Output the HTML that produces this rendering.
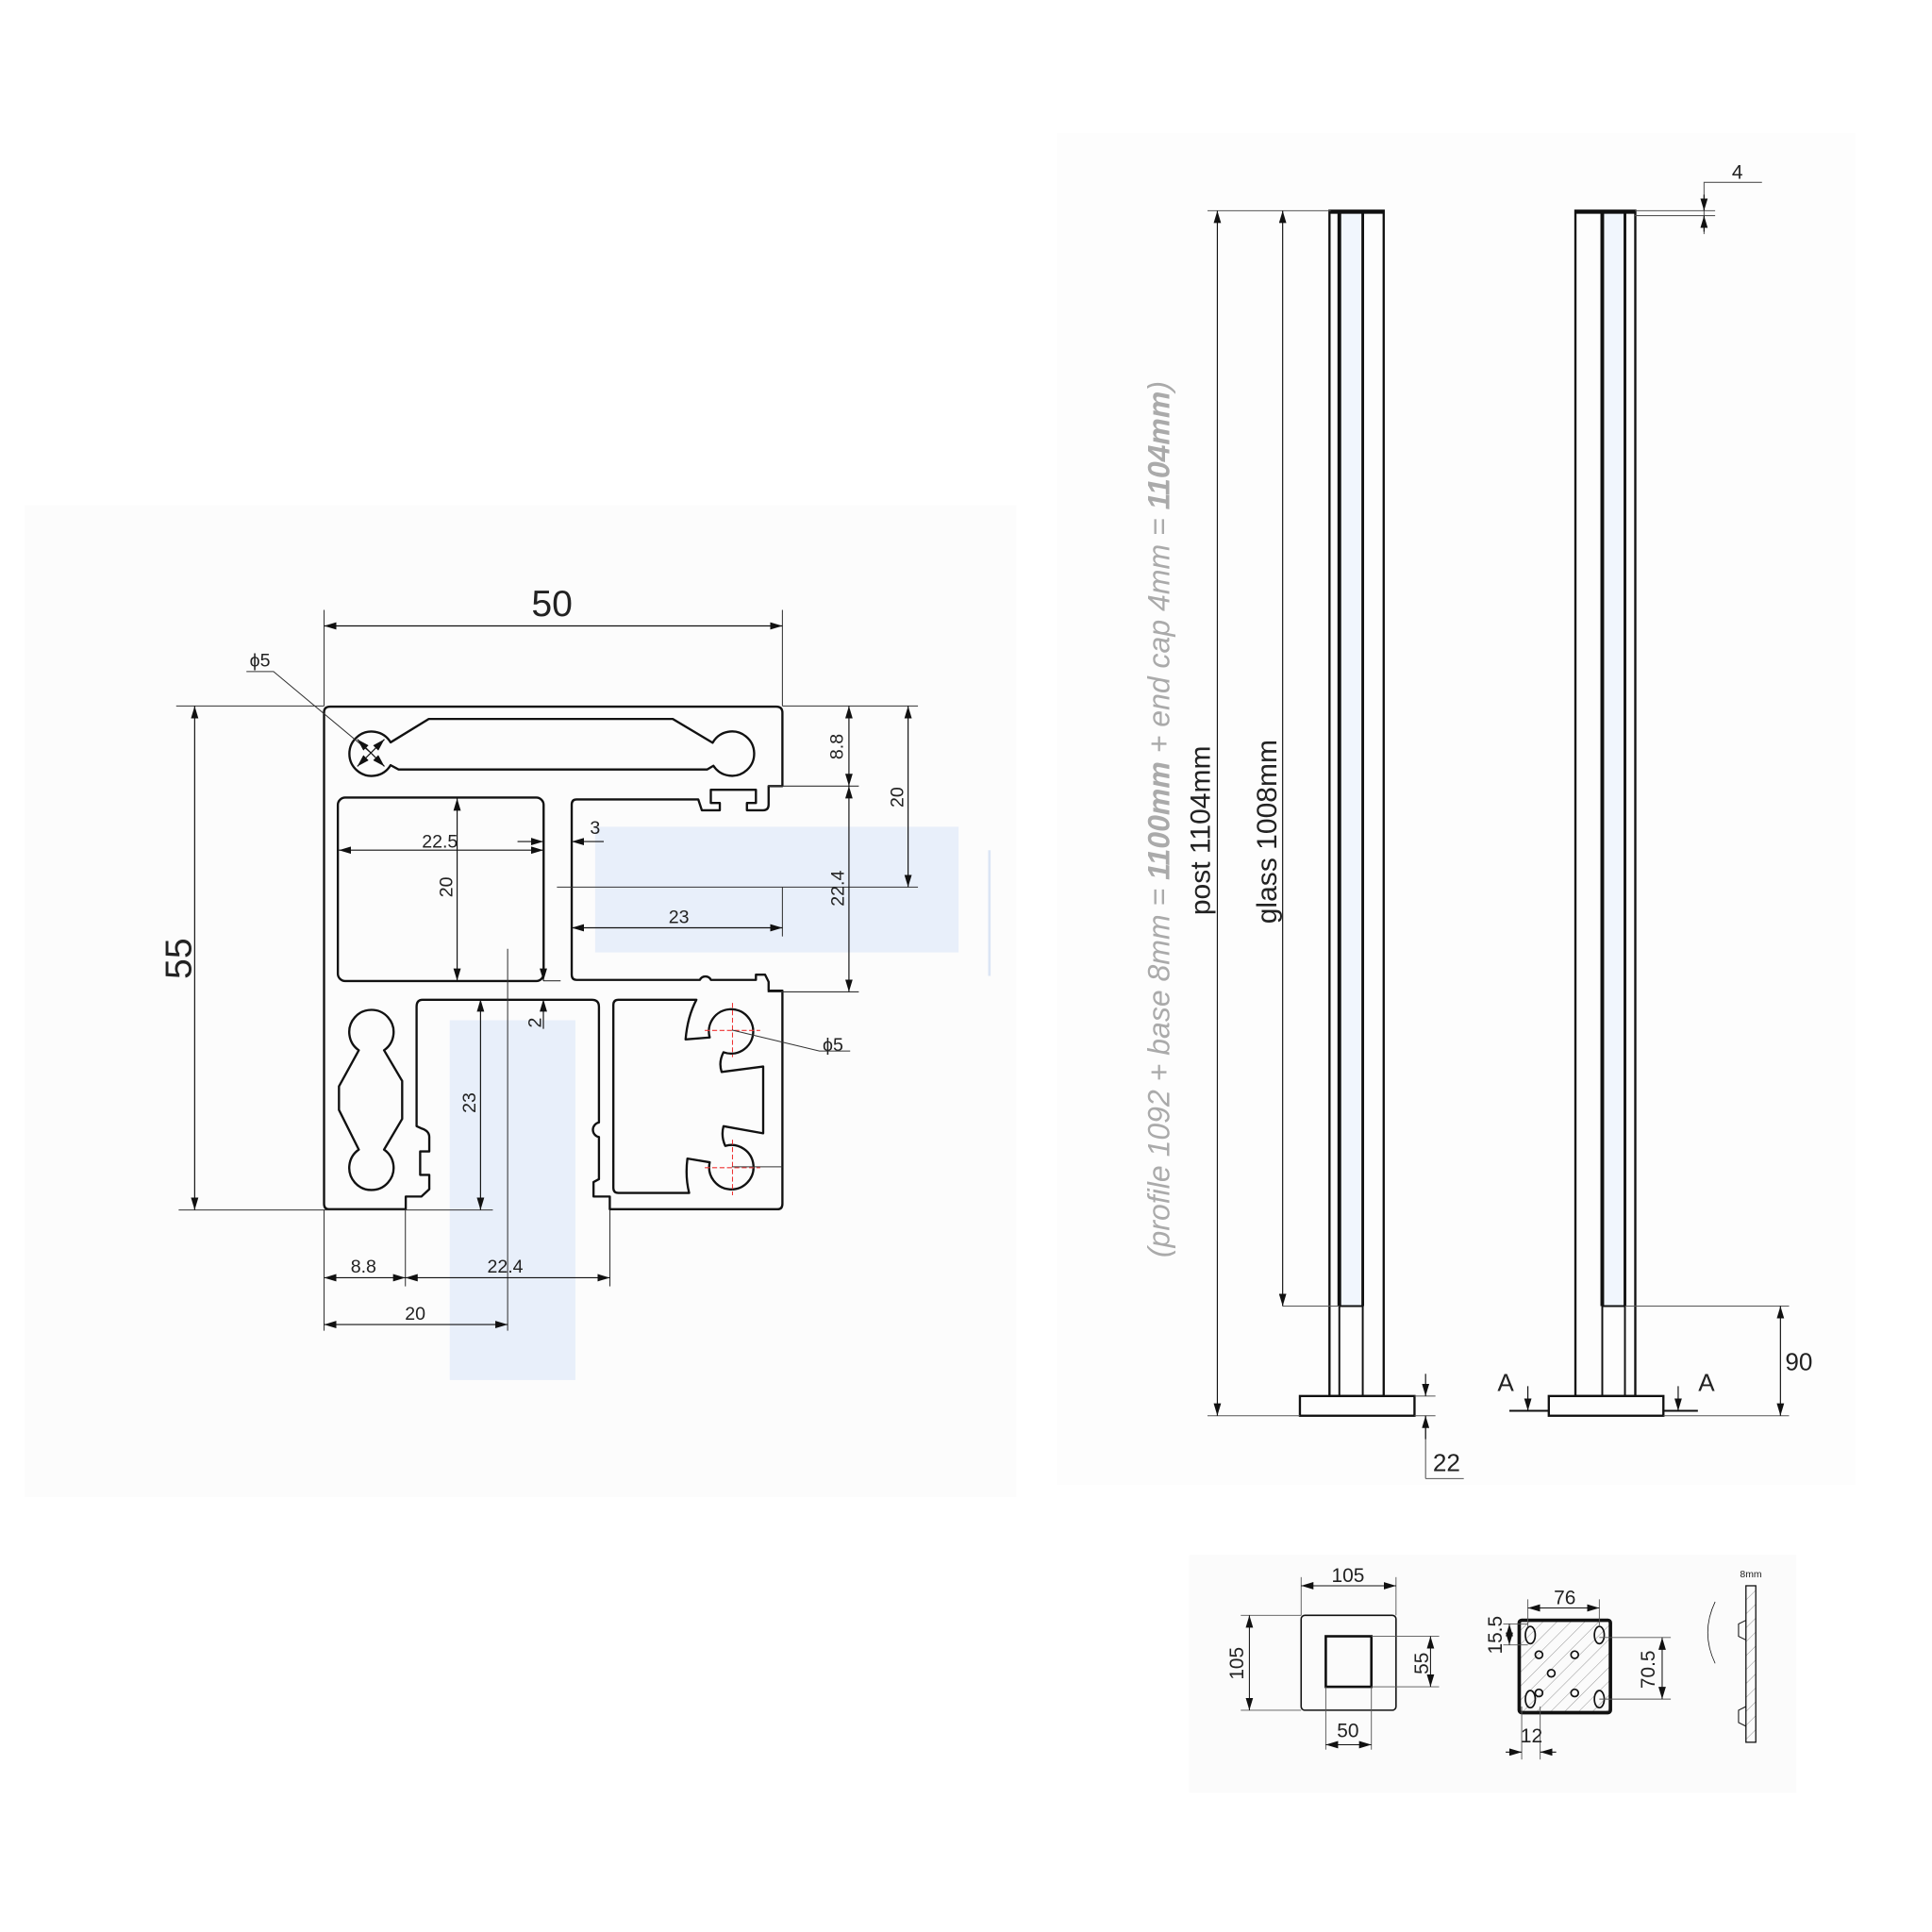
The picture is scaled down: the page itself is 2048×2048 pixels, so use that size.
<!DOCTYPE html>
<html><head><meta charset="utf-8"><style>
html,body{margin:0;padding:0;background:#fff}
svg{display:block}
text{font-family:"Liberation Sans Narrow","Liberation Sans",sans-serif;fill:#222}
</style></head><body>
<svg width="2048" height="2048" viewBox="0 0 1568 1568" xmlns="http://www.w3.org/2000/svg">
<defs>
<marker id="a" viewBox="0 0 10 6" refX="10" refY="3" markerWidth="10" markerHeight="6" orient="auto-start-reverse" markerUnits="userSpaceOnUse"><path d="M0,0 L10,3 L0,6 Z" fill="#111"/></marker>
<pattern id="h" patternUnits="userSpaceOnUse" width="8" height="8" patternTransform="rotate(45)"><line x1="0" y1="0" x2="0" y2="8" stroke="#999" stroke-width="0.8"/></pattern>
</defs>
<rect width="1568" height="1568" fill="#fff"/>
<rect x="20" y="410" width="805" height="805" fill="#fcfcfc"/>
<rect x="858" y="108" width="648" height="1097" fill="#fdfdfd"/>
<rect x="965" y="1262" width="493" height="193" fill="#fbfbfb"/>

<!-- blue glass highlights -->
<rect x="483" y="671" width="295" height="102" fill="#e8effa"/>
<rect x="365" y="828" width="102" height="292" fill="#e8effa"/>
<line x1="803" y1="690" x2="803" y2="792" stroke="#dbe5f5" stroke-width="2"/>

<!-- profile -->
<g fill="none" stroke="#111" stroke-width="1.8" stroke-linejoin="round">
<path d="M268,573.5 H630 Q635,573.5 635,578.5 V638 H623.8 V653 Q623.8,657.6 619.4,657.6 H606.2 V651.7 H613.5 V641 H576.9 V651.7 H584.2 V657.6 H569.6 L566.7,648.8 H468 Q464,648.8 464,653 V791 Q464,795.3 468,795.3 H568 A5,5 0 0 1 577,795.3 H613.5 V791 H620.9 L623.8,796.8 V804 H635 V977 Q635,981.4 631,981.4 H494.9 V971.1 H481.7 V959.4 L486.1,957 V922.8 A6,6 0 0 1 486.1,911 V817 Q486.1,811.4 480.2,811.4 H343 Q338.1,811.4 338.1,817 V914 L342.5,916 Q348.4,918 348.4,922.8 V934.5 H341 V953.5 H348.4 V965.2 L342,971.1 H329.3 V981.4 H267 Q263,981.4 263,977 V578 Q263,573.5 268,573.5 Z"/>
<path d="M317,602.5 L348,583.5 H546 L578.4,602.8 A18,18 0 1 1 579,621.5 L574,624.5 H323.5 L317,621 A18,18 0 1 1 317,602.5 Z"/>
<rect x="274.2" y="647.3" width="167" height="148.9" rx="6"/>
<path d="M311.7,852.4 L326.4,877.3 V908.1 L311.7,933 A18,18 0 1 1 291.2,933 L275.1,900.8 V881.7 L291.2,852.4 A18,18 0 1 1 311.7,852.4 Z"/>
<path d="M502,811.4 H565.2 Q558,825 556.4,843.6 L576,842 A18,18 0 1 1 587.2,854 Q583,862 585.7,870 L619.4,865.6 V919.8 L587.2,914 Q585,922 588.6,930 A18,18 0 1 1 576,943.3 L557.9,940.3 Q556,955 559.3,968.2 H502 Q497.8,968.2 497.8,964 V815.6 Q497.8,811.4 502,811.4 Z"/>
</g>
<g stroke="#e33" stroke-width="0.8" stroke-dasharray="4,2">
<line x1="572" y1="836.3" x2="617" y2="836.3"/><line x1="594.5" y1="814" x2="594.5" y2="858"/>
<line x1="572" y1="947.7" x2="617" y2="947.7"/><line x1="594.5" y1="925" x2="594.5" y2="970"/>
</g>

<g stroke="#333" stroke-width="0.8" fill="none">
<line x1="263" y1="495" x2="263" y2="573"/><line x1="635" y1="495" x2="635" y2="573"/>
<line x1="143" y1="573" x2="263" y2="573"/><line x1="145" y1="982" x2="400" y2="982"/>
<line x1="635" y1="573" x2="745" y2="573"/><line x1="623" y1="638" x2="697" y2="638"/>
<line x1="452" y1="720" x2="745" y2="720"/><line x1="623" y1="805" x2="697" y2="805"/>
<line x1="635" y1="720" x2="635" y2="760"/>
<line x1="412" y1="770" x2="412" y2="1080"/>
<line x1="441" y1="796" x2="455" y2="796"/>
<line x1="263" y1="982" x2="263" y2="1080"/><line x1="329" y1="982" x2="329" y2="1044"/><line x1="495" y1="982" x2="495" y2="1044"/>
<line x1="594" y1="947" x2="635" y2="947"/>
<path d="M200,545 H222 L301,611"/>
<path d="M594,836 L665,853 H690"/>
</g>
<g stroke="#111" stroke-width="0.9" marker-start="url(#a)" marker-end="url(#a)">
<line x1="263" y1="508" x2="635" y2="508"/>
<line x1="158" y1="573" x2="158" y2="982"/>
<line x1="689" y1="573" x2="689" y2="638"/>
<line x1="737" y1="573" x2="737" y2="720"/>
<line x1="689" y1="638" x2="689" y2="805"/>
<line x1="275" y1="690" x2="441" y2="690"/>
<line x1="371" y1="648" x2="371" y2="796"/>
<line x1="464" y1="753" x2="635" y2="753"/>
<line x1="390" y1="811" x2="390" y2="982"/>
<line x1="263" y1="1037" x2="329" y2="1037"/>
<line x1="329" y1="1037" x2="495" y2="1037"/>
<line x1="263" y1="1075" x2="412" y2="1075"/>
</g>
<g stroke="#111" stroke-width="0.9">
<line x1="420" y1="683" x2="441" y2="683" marker-end="url(#a)"/>
<line x1="490" y1="683" x2="464" y2="683" marker-end="url(#a)"/>
<line x1="441" y1="780" x2="441" y2="796" marker-end="url(#a)"/>
<line x1="441" y1="835" x2="441" y2="811" marker-end="url(#a)"/>
<line x1="301" y1="611" x2="290" y2="600" marker-end="url(#a)"/>
<line x1="301" y1="611" x2="312" y2="622" marker-end="url(#a)"/>
<line x1="301" y1="611" x2="312" y2="600" marker-end="url(#a)"/>
<line x1="301" y1="611" x2="290" y2="622" marker-end="url(#a)"/>
</g>
<g font-size="15" text-anchor="middle">
<text x="448" y="500" font-size="30">50</text>
<text transform="translate(155,778) rotate(-90)" font-size="30">55</text>
<text transform="translate(684,606) rotate(-90)">8.8</text>
<text transform="translate(733,647) rotate(-90)">20</text>
<text transform="translate(685,721) rotate(-90)">22.4</text>
<text x="357" y="688">22.5</text>
<text x="483" y="677">3</text>
<text transform="translate(367,720) rotate(-90)">20</text>
<text x="551" y="749">23</text>
<text transform="translate(439,830) rotate(-90)">2</text>
<text transform="translate(386,895) rotate(-90)">23</text>
<text x="295" y="1033">8.8</text>
<text x="410" y="1033">22.4</text>
<text x="337" y="1071">20</text>
<text x="211" y="541">ϕ5</text>
<text x="676" y="853">ϕ5</text>
</g>

<!-- posts -->
<g stroke="#111" fill="none">
<rect x="1088" y="173" width="17" height="887" fill="#f1f6fd" stroke="none"/>
<rect x="1301" y="173" width="17" height="887" fill="#f1f6fd" stroke="none"/>
<rect x="1079" y="171" width="44" height="962" stroke-width="1.8" fill="none"/>
<line x1="1087" y1="171" x2="1087" y2="1060" stroke-width="3"/>
<line x1="1106" y1="171" x2="1106" y2="1060" stroke-width="2.2"/>
<line x1="1087" y1="1060" x2="1087" y2="1133" stroke-width="1.5"/>
<line x1="1106" y1="1060" x2="1106" y2="1133" stroke-width="1.5"/>
<line x1="1087" y1="1060" x2="1106" y2="1060" stroke-width="1.5"/>
<line x1="1079" y1="172" x2="1123" y2="172" stroke-width="3"/>
<rect x="1055" y="1133" width="93" height="16" stroke-width="1.8"/>
<rect x="1278.6" y="171" width="48.6" height="962" stroke-width="1.8"/>
<line x1="1300.4" y1="171" x2="1300.4" y2="1060" stroke-width="3"/>
<line x1="1318.8" y1="171" x2="1318.8" y2="1060" stroke-width="2.2"/>
<line x1="1300.4" y1="1060" x2="1300.4" y2="1133" stroke-width="1.5"/>
<line x1="1318.8" y1="1060" x2="1318.8" y2="1133" stroke-width="1.5"/>
<line x1="1300.4" y1="1060" x2="1318.8" y2="1060" stroke-width="1.5"/>
<line x1="1278.6" y1="172" x2="1327.2" y2="172" stroke-width="3"/>
<rect x="1257" y="1133" width="93" height="16" stroke-width="1.8"/>
<line x1="1225" y1="1145" x2="1257" y2="1145" stroke-width="1.5"/>
<line x1="1350" y1="1145" x2="1378" y2="1145" stroke-width="1.5"/>
</g>
<g stroke="#555" stroke-width="0.8" fill="none">
<line x1="980" y1="171" x2="1080" y2="171"/><line x1="980" y1="1149" x2="1055" y2="1149"/>
<line x1="1041" y1="1060" x2="1087" y2="1060"/>
<line x1="1148" y1="1133" x2="1165" y2="1133"/><line x1="1148" y1="1149" x2="1165" y2="1149"/>
<line x1="1157" y1="1149" x2="1157" y2="1200"/><line x1="1157" y1="1200" x2="1188" y2="1200"/>
<line x1="1319" y1="1060" x2="1452" y2="1060"/><line x1="1350" y1="1149" x2="1452" y2="1149"/>
<line x1="1327" y1="171" x2="1392" y2="171"/><line x1="1327" y1="175" x2="1392" y2="175"/>
<path d="M1383,190 V148 H1430"/>
</g>
<g stroke="#111" stroke-width="0.9">
<line x1="988" y1="171" x2="988" y2="1149" marker-start="url(#a)" marker-end="url(#a)"/>
<line x1="1041" y1="171" x2="1041" y2="1060" marker-start="url(#a)" marker-end="url(#a)"/>
<line x1="1445" y1="1060" x2="1445" y2="1149" marker-start="url(#a)" marker-end="url(#a)"/>
<line x1="1157" y1="1115" x2="1157" y2="1133" marker-end="url(#a)"/>
<line x1="1157" y1="1168" x2="1157" y2="1149" marker-end="url(#a)"/>
<line x1="1383" y1="158" x2="1383" y2="171" marker-end="url(#a)"/>
<line x1="1383" y1="188" x2="1383" y2="175" marker-end="url(#a)"/>
<line x1="1240" y1="1125" x2="1240" y2="1145" marker-end="url(#a)"/>
<line x1="1362" y1="1125" x2="1362" y2="1145" marker-end="url(#a)"/>
</g>
<g font-size="23" text-anchor="middle">
<text transform="translate(982,674) rotate(-90)">post  1104mm</text>
<text transform="translate(1036,675) rotate(-90)">glass  1008mm</text>
<text transform="translate(949,665) rotate(-90)" font-style="italic" style="fill:#aaa" font-size="24.5">(profile 1092 + base 8mm = <tspan font-weight="bold">1100mm</tspan> + end cap 4mm = <tspan font-weight="bold">1104mm</tspan>)</text>
<text x="1174" y="1194" font-size="20">22</text>
<text x="1460" y="1112" font-size="20">90</text>
<text x="1410" y="145" font-size="16">4</text>
<text x="1222" y="1129" font-size="20">A</text>
<text x="1385" y="1129" font-size="20">A</text>
</g>

<!-- base plates -->
<g fill="none" stroke="#111">
<rect x="1056" y="1311" width="77" height="77" rx="3" stroke-width="1.2"/>
<rect x="1076" y="1328" width="37" height="41" stroke-width="2"/>
<rect x="1233" y="1315" width="74" height="75" rx="2" fill="url(#h)" stroke-width="2.8"/>
<g stroke-width="1.3">
<ellipse cx="1242" cy="1327" rx="4" ry="7"/><ellipse cx="1298" cy="1327" rx="4" ry="7"/>
<ellipse cx="1242" cy="1379" rx="4" ry="7"/><ellipse cx="1298" cy="1379" rx="4" ry="7"/>
<circle cx="1249" cy="1343" r="3"/><circle cx="1278" cy="1343" r="3"/><circle cx="1259" cy="1358" r="3"/>
<circle cx="1249" cy="1374" r="3"/><circle cx="1278" cy="1374" r="3"/>
</g>
<rect x="1417" y="1287" width="8" height="127" fill="url(#h)" stroke-width="1"/>
<path d="M1417,1315 l-6,3 v10 l6,3 M1417,1385 l-6,3 v10 l6,3" stroke-width="0.8"/>
<path d="M1392,1300 Q1380,1325 1392,1350" stroke-width="0.6"/>
</g>
<g stroke="#555" stroke-width="0.7" fill="none">
<line x1="1056" y1="1280" x2="1056" y2="1311"/><line x1="1133" y1="1280" x2="1133" y2="1311"/>
<line x1="1007" y1="1311" x2="1056" y2="1311"/><line x1="1007" y1="1388" x2="1056" y2="1388"/>
<line x1="1113" y1="1328" x2="1168" y2="1328"/><line x1="1113" y1="1369" x2="1168" y2="1369"/>
<line x1="1076" y1="1369" x2="1076" y2="1420"/><line x1="1113" y1="1369" x2="1113" y2="1420"/>
<line x1="1240" y1="1298" x2="1240" y2="1320"/><line x1="1298" y1="1298" x2="1298" y2="1320"/>
<line x1="1220" y1="1318" x2="1240" y2="1318"/><line x1="1220" y1="1335" x2="1240" y2="1335"/>
<line x1="1298" y1="1329" x2="1356" y2="1329"/><line x1="1298" y1="1379" x2="1356" y2="1379"/>
<line x1="1235" y1="1385" x2="1235" y2="1428"/><line x1="1250" y1="1385" x2="1250" y2="1428"/>
</g>
<g stroke="#111" stroke-width="0.8">
<line x1="1056" y1="1287" x2="1133" y2="1287" marker-start="url(#a)" marker-end="url(#a)"/>
<line x1="1014" y1="1311" x2="1014" y2="1388" marker-start="url(#a)" marker-end="url(#a)"/>
<line x1="1161" y1="1328" x2="1161" y2="1369" marker-start="url(#a)" marker-end="url(#a)"/>
<line x1="1076" y1="1416" x2="1113" y2="1416" marker-start="url(#a)" marker-end="url(#a)"/>
<line x1="1240" y1="1305" x2="1298" y2="1305" marker-start="url(#a)" marker-end="url(#a)"/>
<line x1="1225" y1="1318" x2="1225" y2="1335" marker-start="url(#a)" marker-end="url(#a)"/>
<line x1="1349" y1="1329" x2="1349" y2="1379" marker-start="url(#a)" marker-end="url(#a)"/>
<line x1="1222" y1="1422" x2="1235" y2="1422" marker-end="url(#a)"/>
<line x1="1263" y1="1422" x2="1250" y2="1422" marker-end="url(#a)"/>
</g>
<g font-size="16" text-anchor="middle">
<text x="1094" y="1284">105</text>
<text transform="translate(1009,1350) rotate(-90)">105</text>
<text transform="translate(1159,1350) rotate(-90)">55</text>
<text x="1094" y="1410">50</text>
<text x="1270" y="1302">76</text>
<text transform="translate(1219,1327) rotate(-90)">15.5</text>
<text transform="translate(1343,1355) rotate(-90)">70.5</text>
<text x="1243" y="1414">12</text>
<text x="1421" y="1280" font-size="8">8mm</text>
</g>
</svg>
</body></html>
